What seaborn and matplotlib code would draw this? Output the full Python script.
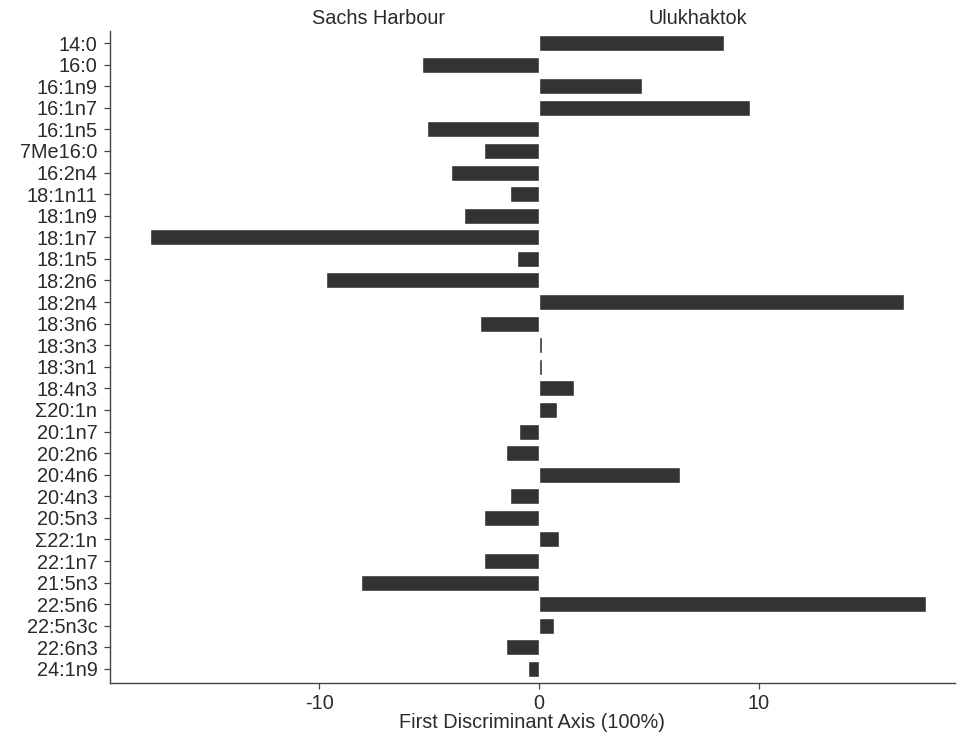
import matplotlib
matplotlib.use("Agg")
import matplotlib.pyplot as plt
import matplotlib.transforms as mtransforms
import seaborn as sns
import pandas as pd

# Fatty acid loadings on the first discriminant axis
fatty_acids = [
    "14:0", "16:0", "16:1n9", "16:1n7", "16:1n5", "7Me16:0", "16:2n4",
    "18:1n11", "18:1n9", "18:1n7", "18:1n5", "18:2n6", "18:2n4", "18:3n6",
    "18:3n3", "18:3n1", "18:4n3", "\u03a320:1n", "20:1n7", "20:2n6", "20:4n6",
    "20:4n3", "20:5n3", "\u03a322:1n", "22:1n7", "21:5n3", "22:5n6", "22:5n3c",
    "22:6n3", "24:1n9",
]
loadings = [
    8.4, -5.3, 4.7, 9.6, -5.1, -2.5, -4.0,
    -1.3, -3.4, -17.7, -1.0, -9.7, 16.6, -2.7,
    0.12, 0.12, 1.6, 0.8, -0.9, -1.5, 6.4,
    -1.3, -2.5, 0.9, -2.5, -8.1, 17.6, 0.7,
    -1.5, -0.5,
]
group_labels = ["Sachs Harbour", "Ulukhaktok"]
group_label_x = [-7.3, 7.2]

df = pd.DataFrame({"fatty_acid": fatty_acids, "loading": loadings})

sns.set_theme(style="white")
plt.rcParams["font.family"] = ["Liberation Sans", "DejaVu Sans"]
text_color = "#2a2a2a"
fs = 14.3

fig = plt.figure(figsize=(9.59, 7.42), dpi=100)
ax = fig.add_axes([0.1147, 0.0795, 0.881, 0.8785])

sns.barplot(data=df, x="loading", y="fatty_acid", orient="h",
            color="#333333", saturation=1, width=0.74, ax=ax)

ax.set_xlim(-19.5, 18.9)
ax.set_ylim(len(fatty_acids) - 0.35, -0.55)
ax.set_xticks([-10, 0, 10])
ax.set_xticklabels(["-10", "0", "10"])

ax.set_xlabel("First Discriminant Axis (100%)", fontsize=fs, color=text_color, labelpad=0)
ax.set_ylabel("")

for side in ["top", "right"]:
    ax.spines[side].set_visible(False)
for side in ["left", "bottom"]:
    ax.spines[side].set_color("#444444")
    ax.spines[side].set_linewidth(1.0)

ax.tick_params(axis="both", direction="out", length=4, width=0.9,
               color="#444444", labelsize=fs, labelcolor=text_color,
               left=True, bottom=True)
ax.tick_params(axis="y", pad=5)
ax.tick_params(axis="x", pad=4)

trans = mtransforms.blended_transform_factory(ax.transData, ax.transAxes)
for label, xpos in zip(group_labels, group_label_x):
    ax.text(xpos, 1.0 + 13 / (0.8785 * 742), label, transform=trans,
            ha="center", va="center", fontsize=fs, color=text_color)

fig.savefig("out.png", dpi=100)
